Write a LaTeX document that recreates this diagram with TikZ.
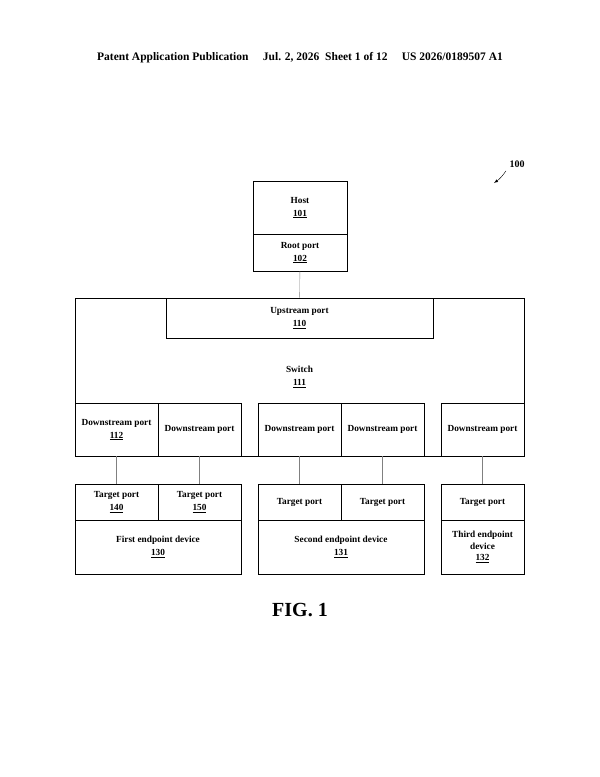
\documentclass[tikz,border=0pt]{standalone}
\usepackage{fontspec}
\setmainfont{Liberation Serif}
\usetikzlibrary{positioning}

\tikzset{
 box/.style={draw,thick,rectangle,inner sep=0pt,align=center,font=\bfseries\fontsize{9.3}{13}\selectfont},
 link/.style={gray,thin},
}
\newcommand{\refno}[1]{\underline{#1}}

\begin{document}
\begin{tikzpicture}[x=1pt,y=-1pt]
 \useasboundingbox (0,0) rectangle (600,777);
 \node[font=\bfseries\fontsize{11.5}{13}\selectfont] (header) at (300,58) {Patent Application Publication\quad\ Jul. 2, 2026\ \ Sheet 1 of 12\quad\ US 2026/0189507 A1};
 % host side
 \node[box,minimum width=94pt,minimum height=53pt] (host) at (300,207.5) {Host\\\refno{101}};
 \node[box,minimum width=94pt,minimum height=37pt] (root) at (300,252.5) {Root port\\\refno{102}};
 % switch
 \node[box,minimum width=449pt,minimum height=158pt] (switch) at (299.5,377) {Switch\\\refno{111}};
 \node[box,minimum width=267pt,minimum height=40pt] (up) at (299.5,318) {Upstream port\\\refno{110}};
 \draw[link] (root) -- (up);
 % downstream ports
 \node[box,minimum width=83pt,minimum height=53pt] (ds1) at (116.5,429.5) {Downstream port\\\refno{112}};
 \node[box,minimum width=83pt,minimum height=53pt] (ds2) at (199.5,429.5) {Downstream port};
 \node[box,minimum width=83pt,minimum height=53pt] (ds3) at (299.5,429.5) {Downstream port};
 \node[box,minimum width=83pt,minimum height=53pt] (ds4) at (382.5,429.5) {Downstream port};
 \node[box,minimum width=83pt,minimum height=53pt] (ds5) at (482.5,429.5) {Downstream port};
 % target ports
 \node[box,minimum width=83pt,minimum height=36pt] (tp1) at (116.5,502) {Target port\\\refno{140}};
 \node[box,minimum width=83pt,minimum height=36pt] (tp2) at (199.5,502) {Target port\\\refno{150}};
 \node[box,minimum width=83pt,minimum height=36pt] (tp3) at (299.5,502) {Target port};
 \node[box,minimum width=83pt,minimum height=36pt] (tp4) at (382.5,502) {Target port};
 \node[box,minimum width=83pt,minimum height=36pt] (tp5) at (482.5,502) {Target port};
 % endpoint devices
 \node[box,minimum width=166pt,minimum height=54pt] (ep1) at (158,547) {First endpoint device\\\refno{130}};
 \node[box,minimum width=166pt,minimum height=54pt] (ep2) at (341,547) {Second endpoint device\\\refno{131}};
 \node[box,minimum width=83pt,minimum height=54pt,font=\bfseries\fontsize{9.3}{11.5}\selectfont] (ep3) at (482.5,547) {Third endpoint\\device\\\refno{132}};
 \foreach \i in {1,...,5}
  \draw[link] (ds\i) -- (tp\i);
 % label and figure
 \node[font=\bfseries\fontsize{10}{11}\selectfont] (ref) at (517,164) {100};
 \coordinate (tip) at (494,183);
 \draw[-latex] (ref.south west) to[bend left=10] (tip);
 \node[font=\bfseries\fontsize{20}{22}\selectfont] (fig) at (300,610) {FIG. 1};
\end{tikzpicture}
\end{document}
